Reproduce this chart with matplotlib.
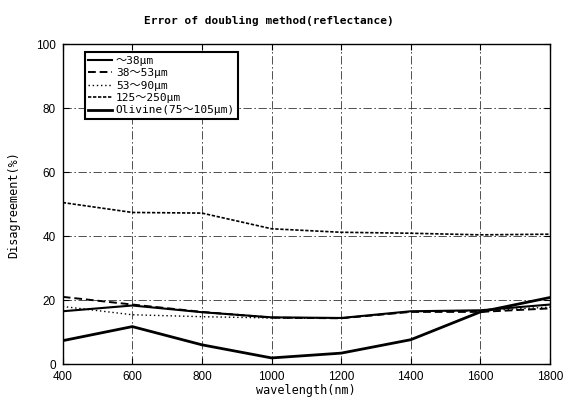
import matplotlib
matplotlib.use('Agg')
import matplotlib.pyplot as plt

wavelength = [400, 600, 800, 1000, 1200, 1400, 1600, 1800]
s_38 = [16.5, 18.3, 16.2, 14.6, 14.4, 16.5, 16.8, 18.6]
s_38_53 = [21.0, 18.6, 16.3, 14.5, 14.3, 16.3, 16.3, 17.4]
s_53_90 = [18.0, 15.4, 14.8, 14.4, 14.3, 16.4, 16.6, 17.8]
s_125_250 = [50.5, 47.4, 47.2, 42.3, 41.2, 40.9, 40.4, 40.6]
s_olivine = [7.3, 11.7, 6.0, 1.9, 3.4, 7.6, 16.3, 20.8]

labels = ["～38μm", "38～53μm", "53～90μm", "125～250μm", "Olivine(75～105μm)"]
xticks = [400, 600, 800, 1000, 1200, 1400, 1600, 1800]
yticks = [0, 20, 40, 60, 80, 100]

mono = ['DejaVu Sans Mono', 'Noto Sans CJK JP']

fig = plt.figure(figsize=(5.63, 3.99), dpi=100)
ax = fig.add_axes([0.1114, 0.0877, 0.8655, 0.8013])

ax.plot(wavelength, s_38, color='black', lw=1.5, label=labels[0])
ax.plot(wavelength, s_38_53, color='black', lw=1.4, dashes=(4, 2), label=labels[1])
ax.plot(wavelength, s_53_90, color='black', lw=1.0, dashes=(1, 2), label=labels[2])
ax.plot(wavelength, s_125_250, color='black', lw=1.2, dashes=(2, 1), label=labels[3])
ax.plot(wavelength, s_olivine, color='black', lw=2.0, label=labels[4])

ax.set_xlim(400, 1800)
ax.set_ylim(0, 100)
ax.set_xticks(xticks)
ax.set_yticks(yticks)
ax.grid(True, color='#333333', lw=0.6, dashes=(10, 3, 2, 3))
ax.tick_params(direction='in', length=4, top=True, right=True, labelsize=8.5, pad=5)
for lab in ax.get_xticklabels() + ax.get_yticklabels():
    lab.set_family('Liberation Sans')
for sp in ax.spines.values():
    sp.set_linewidth(1.0)

ax.set_xlabel("wavelength(nm)", family=mono, fontsize=8.5, labelpad=1)
ax.set_ylabel("Disagreement(%)", family=mono, fontsize=8.5, labelpad=11)
fig.text(0.478, 0.948, "Error of doubling method(reflectance)", family=mono,
         fontsize=8, fontweight='bold', ha='center', va='center')

leg = ax.legend(loc='upper left', bbox_to_anchor=(0.045, 0.975), borderaxespad=0,
                prop={'family': mono, 'size': 8}, fancybox=False, framealpha=1,
                edgecolor='black', labelspacing=0.22, handlelength=2.2,
                handletextpad=0.3, borderpad=0.3)
leg.get_frame().set_linewidth(1.5)

fig.savefig('out.png', dpi=100)
